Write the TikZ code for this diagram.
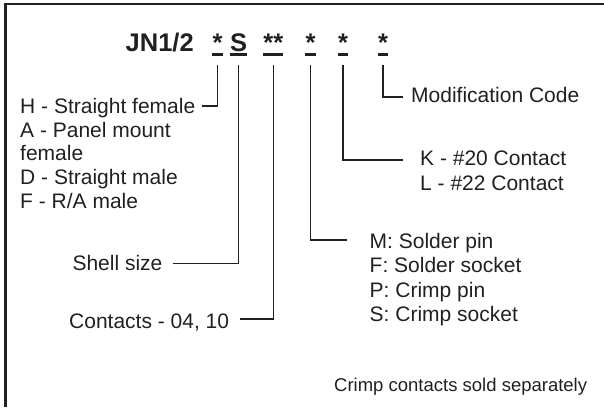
\documentclass[tikz,border=0pt]{standalone}
\usepackage{fontspec}
\setmainfont{Liberation Sans}
\definecolor{ink}{RGB}{35,31,32}
\begin{document}
\begin{tikzpicture}[x=1pt,y=-1pt,
  lbl/.style={font=\fontsize{21}{25}\selectfont, text=ink, inner sep=0pt, anchor=base west},
  code/.style={font=\fontsize{25.5}{30}\selectfont\bfseries, text=ink, inner sep=0pt, anchor=base},
  conn/.style={draw=ink, line width=1.6pt},
  uline/.style={draw=ink, line width=2.2pt}]
\useasboundingbox (0,0) rectangle (604,407);
% frame
\draw[draw=ink, line width=2.2pt] (5.5,407) -- (5.5,4.2) -- (604,4.2);
% title and code positions
\node[code, anchor=base west] (title) at (125.5,51.7) {JN1/2};
\node[code] (c1) at (217.5,51.7) {*};
\node[code] (c2) at (238.5,51.7) {S};
\node[code] (c3) at (273.3,51.7) {**};
\node[code] (c4) at (310.5,51.7) {*};
\node[code] (c5) at (343,51.7) {*};
\node[code] (c6) at (383,51.7) {*};
\foreach \n in {c1,c2,c3,c4,c5,c6}
  \draw[uline] ([yshift=-2.8pt]\n.base west) -- ([yshift=-2.8pt]\n.base east);
% labels
\node[lbl] (h) at (20,113.3) {H - Straight female};
\node[lbl] (a) at (20,137) {A - Panel mount};
\node[lbl] (af) at (20,160.7) {female};
\node[lbl] (d) at (20,184.4) {D - Straight male};
\node[lbl] (f) at (20,208.1) {F - R/A male};
\node[lbl] (shell) at (72.3,270) {Shell size};
\node[lbl] (cont) at (69,328.3) {Contacts - 04, 10};
\node[lbl] (mod) at (411,102.7) {Modification Code};
\node[lbl] (k) at (420,165) {K - \#20 Contact};
\node[lbl] (l) at (420,190) {L - \#22 Contact};
\node[lbl] (m) at (369.5,248.5) {M: Solder pin};
\node[lbl] (fs) at (369.5,272.9) {F: Solder socket};
\node[lbl] (p) at (369.5,297.3) {P: Crimp pin};
\node[lbl] (s) at (369.5,321.7) {S: Crimp socket};
\node[lbl, font=\fontsize{18.5}{22}\selectfont] (note) at (334,391.7) {Crimp contacts sold separately};
% connector ends
\coordinate (e1) at (202,106);
\coordinate (e2) at (173,263.5);
\coordinate (e3) at (239.5,319);
\coordinate (e4) at (347,240);
\coordinate (e5) at (403,160);
\coordinate (e6) at (403,97);
\draw[conn] ([yshift=-13.3pt]c1.base) |- (e1);
\draw[conn] ([yshift=-13.3pt]c2.base) |- (e2);
\draw[conn] ([yshift=-13.3pt]c3.base) |- (e3);
\draw[conn] ([yshift=-13.3pt]c4.base) |- (e4);
\draw[conn] ([yshift=-13.3pt]c5.base) |- (e5);
\draw[conn] ([yshift=-13.3pt]c6.base) |- (e6);
\end{tikzpicture}
\end{document}
